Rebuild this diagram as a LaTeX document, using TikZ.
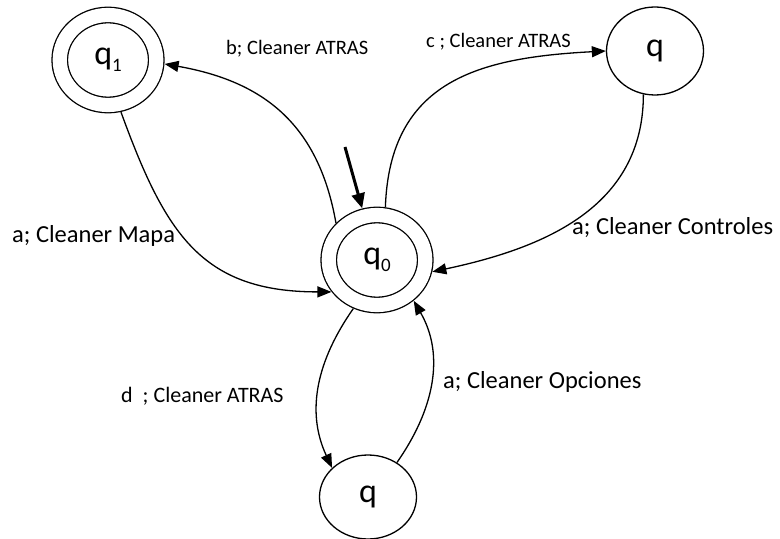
\documentclass[tikz,border=0pt]{standalone}
\usepackage{fontspec}
\setmainfont{Carlito}
\usetikzlibrary{arrows.meta,shapes.geometric}
\newcommand{\stsub}[1]{\raisebox{-7bp}{\fontsize{19bp}{19bp}\selectfont #1}}

\begin{document}
\begin{tikzpicture}[
    x=1bp, y=-1bp,
    state/.style={ellipse, draw, line width=1.3bp, minimum width=97bp,
    minimum height=88bp, inner sep=0pt, font=\fontsize{34bp}{34bp}\selectfont},
    accept/.style={state, double, double distance=14.2bp, minimum width=96.5bp,
    minimum height=90bp, outer sep=8.5bp},
    arrow/.style={-{Triangle[length=14bp, width=11bp]}, line width=1.3bp},
    initarrow/.style={-{Triangle[length=15bp, width=13bp]}, line width=3bp},
    bigtext/.style={anchor=base west, inner sep=0pt, font=\fontsize{24.5bp}{26bp}\selectfont},
    smalltext/.style={anchor=base west, inner sep=0pt, font=\fontsize{20.5bp}{22bp}\selectfont}
]
\useasboundingbox (0,0) rectangle (780,539);
\node[accept] (q0) at (377,260) {q\stsub{0}};
\node[accept] (q1) at (108,60) {q\stsub{1}};
\node[state] (q2) at (655,51) {q};
\node[state, minimum height=84bp] (q3) at (368,497) {q};
\coordinate (start) at (345,147);
\draw[initarrow] (start) -- (q0.106);
\draw[arrow] (q0.138) to[out=100, in=-10, looseness=1.1] (q1.-4);
\draw[arrow] (q1.-76) to[out=-70, in=180, looseness=1.2] (q0.215);
\draw[arrow] (q0.81) to[out=88, in=183, looseness=1.2] (q2.180);
\draw[arrow] (q2.-105) to[out=-90, in=12, looseness=1.05] (q0.-12);
\draw[arrow] (q0.-116) to[out=-125, in=115] (q3.141);
\draw[arrow] (q3.50) to[out=55, in=-60] (q0.-48);
\node[smalltext] (lb) at (226,55) {b; Cleaner ATRAS};
\node[smalltext] (lc) at (426,48) {c ; Cleaner ATRAS};
\node[bigtext] (lmapa) at (12,243) {a; Cleaner Mapa};
\node[bigtext] (lcontroles) at (572,235) {a; Cleaner Controles};
\node[smalltext, font=\fontsize{22bp}{24bp}\selectfont] (ld) at (121,402) {d~~; Cleaner ATRAS};
\node[bigtext] (lopciones) at (443,388) {a; Cleaner Opciones};
\end{tikzpicture}
\end{document}
